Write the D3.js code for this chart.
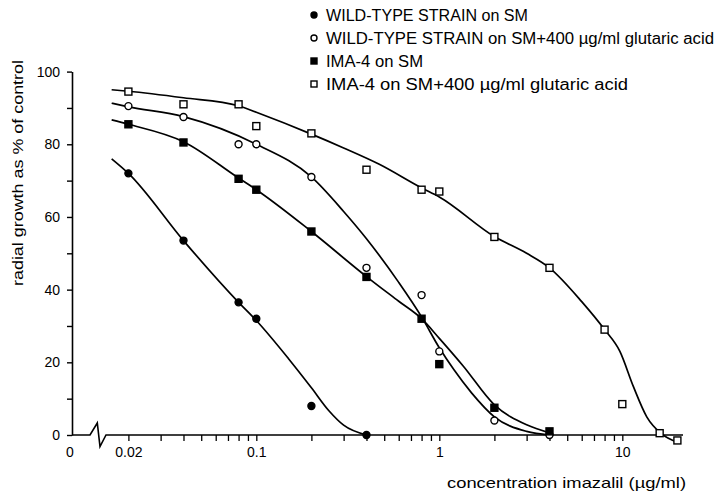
<!DOCTYPE html>
<html>
<head>
<meta charset="utf-8">
<script src="https://cdn.jsdelivr.net/npm/d3@7"></script>
<style>
  html, body { margin: 0; padding: 0; background: #fff; }
  svg { display: block; }
  text { font-family: "Liberation Sans", Arial, sans-serif; fill: #000; }
</style>
</head>
<body>
<div id="chart"></div>
<script>
// ---- data (concentration in µg/ml, radial growth as % of control) ----
const seriesNames = [
  "WILD-TYPE STRAIN on SM",
  "WILD-TYPE STRAIN on SM+400 µg/ml glutaric acid",
  "IMA-4 on SM",
  "IMA-4 on SM+400 µg/ml glutaric acid"
];
const seriesMarkers = ["circleFilled", "circleOpen", "squareFilled", "squareOpen"];

const wildSM = [[0.02,72],[0.04,53.5],[0.08,36.5],[0.1,32],[0.2,8],[0.4,0]];
const wildGlut = [[0.02,90.5],[0.04,87.5],[0.08,80],[0.1,80],[0.2,71],[0.4,46],[0.8,38.5],[1,23],[2,4],[4,0]];
const imaSM = [[0.02,85.5],[0.04,80.5],[0.08,70.5],[0.1,67.5],[0.2,56],[0.4,43.5],[0.8,32],[1,19.5],[2,7.5],[4,1]];
const imaGlut = [[0.02,94.5],[0.04,91],[0.08,91],[0.1,85],[0.2,83],[0.4,73],[0.8,67.5],[1,67],[2,54.5],[4,46],[8,29],[10,8.5],[16,0.5],[20,-1.5]];

// fitted curves
const wildSMFit = [[0.0162,76],[0.02,72],[0.04,53.5],[0.08,36.5],[0.1,31.5],[0.15,21],[0.2,13],[0.25,6.6],[0.3,2.7],[0.4,0]];
const wildGlutFit = [[0.0162,91.3],[0.02,90.3],[0.04,87.6],[0.1,80],[0.2,71],[0.3,61.5],[0.4,54],[0.6,42],[0.8,32.5],[1,24],[1.2,18],[1.5,11.6],[2,5],[3,1],[4,0]];
const imaSMFit = [[0.0162,86.7],[0.02,85.5],[0.04,80.7],[0.08,70.7],[0.1,67.5],[0.2,56],[0.4,43.6],[0.6,36.8],[0.8,32],[1,26.6],[1.35,19],[2,8.3],[3,2.8],[4,0.6]];
const imaGlutFit = [[0.0162,95],[0.02,94.6],[0.04,92.8],[0.08,90.6],[0.1,88.8],[0.2,82.8],[0.3,79],[0.47,74.5],[0.8,68],[1,65.5],[2,54.6],[3,50],[4,46],[6,36.7],[8,29],[9.7,23],[11.5,13.3],[13.6,5],[16.4,0.3],[20,-2]];

const xTickValues = [0.02,0.03,0.04,0.05,0.06,0.07,0.08,0.09,0.1,0.2,0.3,0.4,0.5,0.6,0.7,0.8,0.9,1,2,3,4,5,6,7,8,9,10];
const xTickLabels = {0.02:"0.02", 0.1:"0.1", 1:"1", 10:"10"};
const yTickValues = [0,10,20,30,40,50,60,70,80,90,100];
const yTickLabels = [0,20,40,60,80,100];
const xTitle = "concentration imazalil (µg/ml)";
const yTitle = "radial growth as % of control";
const zeroLabel = "0";

// ---- drawing ----
const W = 719, H = 495;
const svg = d3.select("#chart").append("svg").attr("width", W).attr("height", H);

const x = d3.scaleLog().domain([0.02, 20]).range([128.4, 677.4]);
const y = d3.scaleLinear().domain([0, 100]).range([435, 71.6]);
const axisX0 = 72;

// y axis
const yAxis = d3.axisLeft(y).tickValues(yTickValues).tickSize(5).tickSizeOuter(0).tickPadding(7)
  .tickFormat(d => yTickLabels.includes(d) ? String(d) : "");
const gy = svg.append("g").attr("transform", `translate(${axisX0},0)`).call(yAxis);
gy.select(".domain").attr("stroke", "#000").attr("stroke-width", 1.6);
gy.selectAll(".tick line").attr("stroke", "#000").attr("stroke-width", 1.4);
gy.selectAll(".tick text").attr("font-size", 14).attr("font-family", "Liberation Sans, Arial, sans-serif").attr("fill", "#000");

// x axis
const xAxis = d3.axisBottom(x).tickValues(xTickValues).tickSize(6).tickSizeOuter(0).tickPadding(6)
  .tickFormat(d => xTickLabels[d] || "");
const gx = svg.append("g").attr("transform", `translate(0,${y(0)})`).call(xAxis);
gx.select(".domain").remove();
gx.selectAll(".tick line").attr("stroke", "#000").attr("stroke-width", 1.3);
gx.selectAll(".tick text").attr("font-size", 14).attr("font-family", "Liberation Sans, Arial, sans-serif").attr("fill", "#000");

// x axis line with break
const y0 = y(0);
svg.append("path")
  .attr("d", `M${axisX0},${y0} H90 L97.3,${y0-12} L100,${y0+11.5} L106,${y0} H683`)
  .attr("fill", "none").attr("stroke", "#000").attr("stroke-width", 1.6).attr("stroke-linejoin", "miter");

// zero label on x axis
svg.append("text").attr("x", 70).attr("y", 457).attr("text-anchor", "middle")
  .attr("font-size", 14).text(zeroLabel);

// titles
svg.append("text").attr("x", 447).attr("y", 488).attr("font-size", 15)
  .attr("textLength", 239).attr("lengthAdjust", "spacingAndGlyphs").text(xTitle);
svg.append("text").attr("transform", "translate(23,286) rotate(-90)").attr("font-size", 15)
  .attr("textLength", 226).attr("lengthAdjust", "spacingAndGlyphs").text(yTitle);

// curves
const line = d3.line().x(d => x(d[0])).y(d => y(d[1])).curve(d3.curveMonotoneX);
[wildSMFit, wildGlutFit, imaSMFit, imaGlutFit].forEach(fit => {
  svg.append("path").datum(fit).attr("d", line)
    .attr("fill", "none").attr("stroke", "#000").attr("stroke-width", 1.7);
});

// markers
function drawMarker(g, type, cx, cy, s) {
  if (type.startsWith("circle")) {
    g.append("circle").attr("cx", cx).attr("cy", cy).attr("r", s)
      .attr("fill", type.endsWith("Filled") ? "#000" : "#fff")
      .attr("stroke", "#000").attr("stroke-width", 1.4);
  } else {
    g.append("rect").attr("x", cx - s).attr("y", cy - s).attr("width", 2*s).attr("height", 2*s)
      .attr("fill", type.endsWith("Filled") ? "#000" : "#fff")
      .attr("stroke", "#000").attr("stroke-width", 1.4);
  }
}
const allSeries = [wildSM, wildGlut, imaSM, imaGlut];
const mg = svg.append("g");
allSeries.forEach((s, i) => {
  s.forEach(d => drawMarker(mg, seriesMarkers[i], x(d[0]), y(d[1]), 3.5));
});

// legend
const legendWidths = [202, 388, 97, 302];
const lg = svg.append("g");
seriesNames.forEach((name, i) => {
  const cy = 15 + i * 23;
  drawMarker(lg, seriesMarkers[i], 314, cy, 3);
  lg.append("text").attr("x", 326).attr("y", cy + 6).attr("font-size", 16)
    .attr("textLength", legendWidths[i]).attr("lengthAdjust", "spacingAndGlyphs").text(name);
});
</script>
</body>
</html>
